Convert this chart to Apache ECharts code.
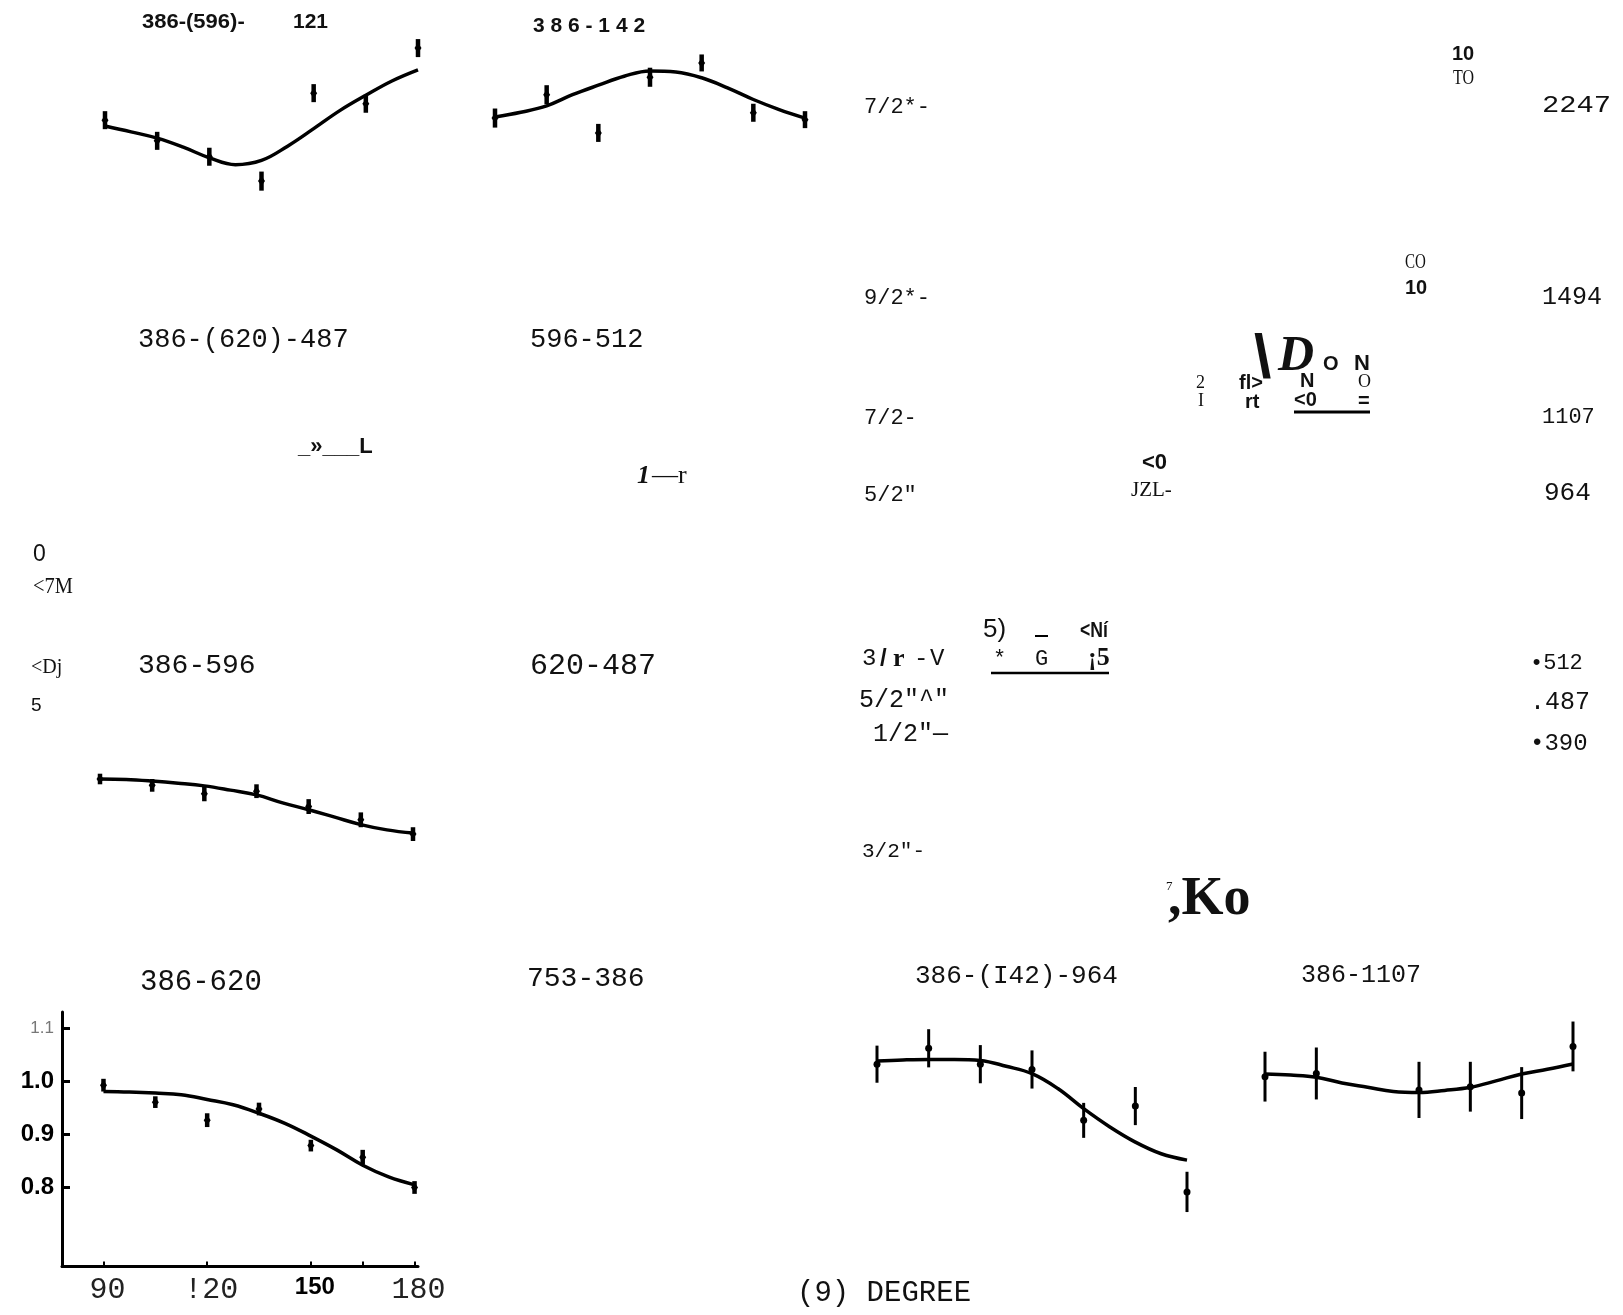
<!DOCTYPE html>
<html>
<head>
<meta charset="utf-8">
<script src="https://cdn.jsdelivr.net/npm/echarts@6/dist/echarts.min.js"></script>
<style>
  html, body { margin: 0; padding: 0; background: #fff; }
  #chart { width: 1623px; height: 1315px; }
</style>
</head>
<body>
<div id="chart"></div>
<script>
// angles (degrees) of the measured points and of the fitted curves
const angles = [90, 105, 120, 135, 150, 165, 180];
const anglesF = [90, 105, 135, 150, 165, 180];
const fitAngles = [90, 97.5, 105, 112.5, 120, 127.5, 135, 142.5, 150, 157.5, 165, 172.5, 180];

// 386-(596)-121
const fitA = [1.000, 0.989, 0.977, 0.960, 0.940, 0.927, 0.935, 0.962, 0.995, 1.029, 1.058, 1.085, 1.106];
const ptsA = [1.011, 0.972, 0.942, 0.896, 1.062, 1.042, 1.147];
const errA = [0.017, 0.017, 0.017, 0.018, 0.017, 0.017, 0.017];

// 386-142
const fitB = [1.000, 1.009, 1.021, 1.042, 1.060, 1.077, 1.087, 1.085, 1.074, 1.055, 1.033, 1.014, 0.998];
const ptsB = [0.998, 1.042, 0.970, 1.075, 1.102, 1.008, 0.995];
const errB = [0.018, 0.018, 0.017, 0.018, 0.016, 0.017, 0.016];

// 386-596
const fitC = [1.000, 0.999, 0.996, 0.992, 0.987, 0.979, 0.970, 0.955, 0.942, 0.928, 0.914, 0.904, 0.898];
const ptsC = [1.000, 0.988, 0.972, 0.977, 0.948, 0.923, 0.896];
const errC = [0.010, 0.012, 0.014, 0.013, 0.014, 0.014, 0.013];

// 386-620 (the panel with axes)
const fitD = [0.980, 0.979, 0.977, 0.974, 0.965, 0.955, 0.939, 0.920, 0.896, 0.870, 0.841, 0.819, 0.804];
const ptsD = [0.992, 0.960, 0.926, 0.947, 0.878, 0.856, 0.799];
const errD = [0.012, 0.011, 0.013, 0.012, 0.011, 0.014, 0.012];

// 386-(142)-964
const fitE = [1.000, 1.002, 1.003, 1.003, 1.001, 0.990, 0.976, 0.948, 0.910, 0.876, 0.847, 0.825, 0.813];
const ptsE = [0.994, 1.024, 0.994, 0.984, 0.888, 0.915, 0.753];
const errE = [0.035, 0.036, 0.036, 0.036, 0.033, 0.036, 0.038];

// 386-1107
const fitF = [1.000, 0.998, 0.994, 0.983, 0.975, 0.967, 0.965, 0.969, 0.975, 0.987, 1.000, 1.009, 1.019];
const ptsF = [0.995, 1.001, 0.970, 0.976, 0.964, 1.052];
const errF = [0.047, 0.049, 0.053, 0.047, 0.049, 0.047];

// tick labels of the one drawn axis pair
const xTicks = [90, 120, 150, 180];
const xTickText = ['90', '!20', '150', '180'];
const yTicks = [0.8, 0.9, 1.0, 1.1];

const MONO = '"Liberation Mono", "DejaVu Sans Mono", monospace';
const SANS = '"Liberation Sans", Arial, sans-serif';
const SERIF = '"Liberation Serif", "Times New Roman", serif';

const chart = echarts.init(document.getElementById('chart'));

// panels: grid box in px + y range
const panels = [
    { box: [105, 20, 313, 212], y: [0.8, 1.2], fit: fitA, pts: ptsA, err: errA, ang: angles, thin: false },
    { box: [495, 11, 310, 212], y: [0.8, 1.2], fit: fitB, pts: ptsB, err: errB, ang: angles, thin: false },
    { box: [100, 673, 313, 212], y: [0.8, 1.2], fit: fitC, pts: ptsC, err: errC, ang: angles, thin: false },
    { box: [62, 1012, 356, 254.5], y: [0.65, 1.13], x: [78, 181], fit: fitD, pts: ptsD, err: errD, ang: angles, thin: false, axes: true },
    { box: [877, 955, 310, 265], y: [0.7, 1.2], fit: fitE, pts: ptsE, err: errE, ang: angles, thin: true },
    { box: [1265, 968, 308, 212], y: [0.8, 1.2], fit: fitF, pts: ptsF, err: errF, ang: anglesF, thin: true }
]

function errItem(thin) {
    return function (params, api) {
        const x = api.value(0), v = api.value(1), e = api.value(2)
        const a = api.coord([x, v + e]), b = api.coord([x, v - e]), c = api.coord([x, v])
        const kids = [{
            type: 'line',
            shape: { x1: a[0], y1: a[1], x2: b[0], y2: b[1] },
            style: { stroke: '#000', lineWidth: thin ? 3 : 4.5 }
        }]
        if (thin) {
            kids.push({ type: 'circle', shape: { cx: c[0], cy: c[1], r: 3.5 }, style: { fill: '#000' } })
        } else {
            kids.push({
                type: 'polygon',
                shape: { points: [[c[0], c[1] - 5], [c[0] + 3.5, c[1]], [c[0], c[1] + 5], [c[0] - 3.5, c[1]]] },
                style: { fill: '#000' }
            })
        }
        return { type: 'group', children: kids }
    }
}

const grids = [], xAxes = [], yAxes = [], series = []
panels.forEach((p, i) => {
    grids.push({ left: p.box[0], top: p.box[1], width: p.box[2], height: p.box[3], outerBoundsMode: 'none', containLabel: false })
    const xr = p.x || [90, 180]
    if (p.axes) {
        xAxes.push({
            gridIndex: i, type: 'value', min: xr[0], max: xr[1],
            axisLine: { show: true, onZero: false, lineStyle: { color: '#000', width: 3 } },
            axisTick: { show: true, inside: true, length: 5, customValues: [90, 120, 150, 165, 180], lineStyle: { color: '#000', width: 2 } },
            axisLabel: {
                show: true, margin: 9, customValues: xTicks,
                formatter: v => {
                    const t = xTickText[xTicks.indexOf(v)]
                    return v === 150 ? `{b|${t}}` : `{m|${t}}`
                },
                rich: {
                    m: { fontFamily: 'Liberation Mono', fontSize: 30, color: '#222', padding: [0, 0, 0, 8] },
                    b: { fontFamily: 'Liberation Sans', fontSize: 24, fontWeight: 'bold', color: '#000', padding: [0, 0, 0, 8] }
                }
            },
            splitLine: { show: false }
        })
        yAxes.push({
            gridIndex: i, type: 'value', min: p.y[0], max: p.y[1],
            axisLine: { show: true, onZero: false, lineStyle: { color: '#000', width: 3 } },
            axisTick: { show: true, inside: true, length: 8, customValues: yTicks, lineStyle: { color: '#000', width: 3 } },
            axisLabel: {
                show: true, margin: 8, customValues: yTicks,
                formatter: v => Math.abs(v - 1.1) < 1e-6 ? '{f|1.1}' : `{b|${v.toFixed(1)}}`,
                rich: {
                    b: { fontFamily: 'Liberation Sans', fontSize: 24, fontWeight: 'bold', color: '#000' },
                    f: { fontFamily: 'Liberation Sans', fontSize: 17, color: '#777' }
                }
            },
            splitLine: { show: false }
        })
    } else {
        xAxes.push({ gridIndex: i, type: 'value', min: xr[0], max: xr[1], show: false })
        yAxes.push({ gridIndex: i, type: 'value', min: p.y[0], max: p.y[1], show: false })
    }
    series.push({
        type: 'line', xAxisIndex: i, yAxisIndex: i,
        data: fitAngles.map((a, k) => [a, p.fit[k]]),
        smooth: 0.4, symbol: 'none', silent: true,
        lineStyle: { color: '#000', width: 3.5 }, z: 2
    })
    series.push({
        type: 'custom', xAxisIndex: i, yAxisIndex: i,
        data: p.ang.map((a, k) => [a, p.pts[k], p.err[k]]),
        encode: { x: 0, y: 1 },
        renderItem: errItem(p.thin), silent: true, z: 3
    })
})

function txt(x, y, s, size, fam, weight, extra) {
    return Object.assign({
        type: 'text', x: x, y: y, silent: true,
        style: {
            text: s, font: `${weight || 'normal'} ${size}px ${fam}`, fill: '#111',
            textAlign: 'left', textVerticalAlign: 'middle', align: 'left', verticalAlign: 'middle'
        }
    }, extra || {})
}
function rule(x1, y1, x2, y2, w) {
    return { type: 'line', silent: true, shape: { x1, y1, x2, y2 }, style: { stroke: '#000', lineWidth: w } }
}

const texts = [
    // panel titles
    txt(142, 22, '386-(596)-', 20, SANS, 'bold', { scaleX: 1.1 }),
    txt(293, 22, '121', 20, SANS, 'bold', { scaleX: 1.05 }),
    txt(533, 26, '3 8 6 - 1 4 2', 21, SANS, 'bold'),
    txt(138, 340, '386-(620)-487', 27, MONO),
    txt(530, 340, '596-512', 27, MONO),
    txt(138, 666, '386-596', 28, MONO),
    txt(530, 666, '620-487', 30, MONO),
    txt(140, 982, '386-620', 29, MONO),
    txt(527, 979, '753-386', 28, MONO),
    txt(915, 976, '386-(I42)-964', 26, MONO),
    txt(1301, 975, '386-1107', 25, MONO),
    txt(797, 1293, '(9) DEGREE', 29, MONO),
    txt(298, 447, '_»___L', 22, SANS, 'bold'),
    txt(637, 476, '1', 26, SERIF, 'italic bold'),
    txt(652, 476, '—r', 26, SERIF),
    // left margin scraps
    txt(33, 555, '0', 23, SANS),
    txt(33, 587, '<7M', 24, SERIF, 'normal', { scaleX: 0.85 }),
    txt(31, 668, '<Dj', 20, SERIF),
    txt(31, 706, '5', 19, SANS),
    // level scheme: spins
    txt(864, 107, '7/2*-', 22, MONO),
    txt(864, 298, '9/2*-', 22, MONO),
    txt(864, 418, '7/2-', 22, MONO),
    txt(864, 495, '5/2"', 22, MONO),
    txt(862, 659, '3', 24, MONO),
    txt(880, 659, '/', 24, SANS, 'bold'),
    txt(893, 659, 'r', 26, SERIF, 'bold'),
    txt(914, 659, '-', 24, MONO),
    txt(930, 659, 'V', 24, MONO),
    txt(859, 700, '5/2"^"', 25, MONO),
    txt(873, 734, '1/2"—', 25, MONO),
    txt(862, 851, '3/2"-', 21, MONO),
    // level scheme: energies
    txt(1542, 106, '2247', 24, MONO, 'normal', { scaleX: 1.2 }),
    txt(1542, 297, '1494', 25, MONO),
    txt(1542, 417, '1107', 22, MONO),
    txt(1544, 493, '964', 26, MONO),
    txt(1530, 663, '•512', 22, MONO),
    txt(1530, 702, '.487', 25, MONO),
    txt(1530, 744, '•390', 24, MONO),
    // level scheme: scattered marks
    txt(1452, 54, '10', 20, SANS, 'bold'),
    txt(1453, 79, 'TO', 20, SERIF, 'normal', { scaleX: 0.8 }),
    txt(1405, 263, 'CO', 20, SERIF, 'normal', { scaleX: 0.75 }),
    txt(1405, 288, '10', 20, SANS, 'bold'),
    txt(1254, 360, '\\', 62, SANS, 'bold'),
    txt(1278, 357, 'D', 50, SERIF, 'italic bold'),
    txt(1323, 364, 'O', 20, SANS, 'bold'),
    txt(1354, 364, 'N', 22, SANS, 'bold'),
    txt(1196, 383, '2', 18, SERIF),
    txt(1198, 401, 'I', 18, SERIF),
    txt(1239, 383, 'fl>', 20, SANS, 'bold'),
    txt(1245, 402, 'rt', 20, SANS, 'bold'),
    txt(1300, 381, 'N', 20, SANS, 'bold'),
    txt(1294, 400, '<0', 20, SANS, 'bold'),
    txt(1358, 382, 'O', 18, SERIF),
    txt(1358, 401, '=', 20, SANS, 'bold'),
    rule(1294, 412, 1370, 412, 3),
    txt(1142, 463, '<0', 22, SANS, 'bold'),
    txt(1131, 490, 'JZL-', 21, SERIF),
    txt(983, 630, '5)', 26, SANS),
    rule(1035, 636, 1048, 636, 2),
    txt(1080, 631, '<Ní', 22, SANS, 'bold', { scaleX: 0.8 }),
    txt(993, 659, '*', 22, MONO),
    txt(1035, 659, 'G', 22, MONO),
    txt(1088, 658, '¡5', 26, SERIF, 'bold'),
    rule(991, 673, 1109, 673, 2.5),
    txt(1166, 887, '7', 13, SERIF),
    txt(1168, 900, ',Ko', 54, SERIF, 'bold')
]

chart.setOption({
    animation: false,
    backgroundColor: '#fff',
    grid: grids,
    xAxis: xAxes,
    yAxis: yAxes,
    series: series,
    graphic: { elements: texts }
})

window.addEventListener('resize', () => chart.resize())
</script>
</body>
</html>
